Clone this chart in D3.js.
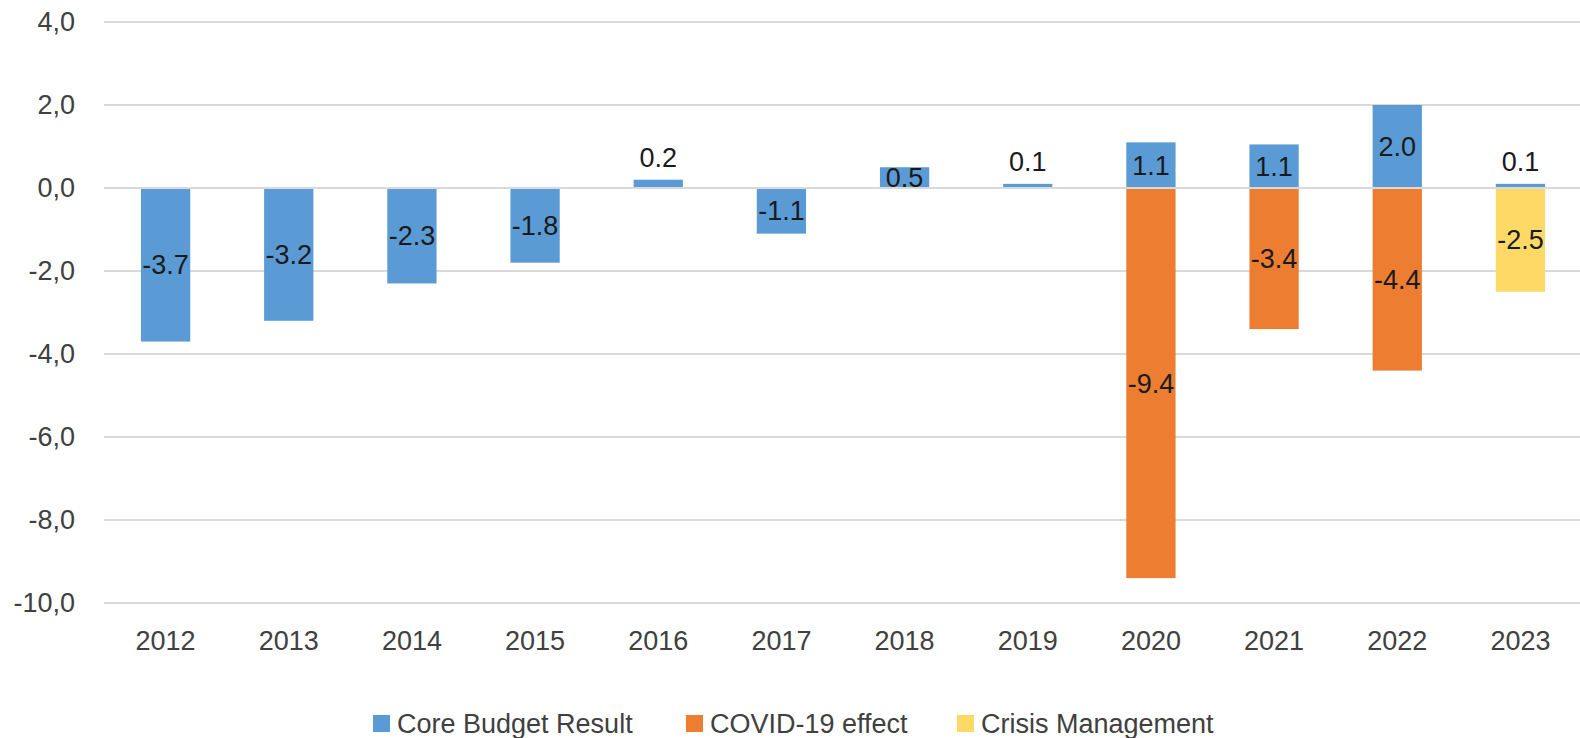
<!DOCTYPE html>
<html>
<head>
<meta charset="utf-8">
<script src="https://cdn.jsdelivr.net/npm/d3@7"></script>
<style>
  body { margin: 0; background: #fff; overflow: hidden; }
  text { font-family: "Liberation Sans", Arial, sans-serif; }
</style>
</head>
<body>
<div id="chart"></div>
<script>
// data
var years = ['2012', '2013', '2014', '2015', '2016', '2017', '2018', '2019', '2020', '2021', '2022', '2023'];
var coreBudget = [-3.7, -3.2, -2.3, -1.8, 0.2, -1.1, 0.5, 0.1, 1.1, 1.05, 2.0, 0.1];
var covidEffect = [0, 0, 0, 0, 0, 0, 0, 0, -9.4, -3.4, -4.4, 0];
var crisisMgmt = [0, 0, 0, 0, 0, 0, 0, 0, 0, 0, 0, -2.5];
var seriesNames = ['Core Budget Result', 'COVID-19 effect', 'Crisis Management'];
var yTicks = [4, 2, 0, -2, -4, -6, -8, -10];

var colors = ['#5B9BD5', '#ED7D31', '#FFD966'];

var width = 1580, height = 738;
var svg = d3.select('#chart').append('svg')
    .attr('width', width)
    .attr('height', height);

var x = d3.scaleBand()
    .domain(years)
    .range([104, 1582])
    .paddingInner(0.6)
    .paddingOuter(0.3);

var y = d3.scaleLinear()
    .domain([-10, 4])
    .range([603, 22]);

// table for the stack
var rows = years.map(function(yr, i) {
    return { year: yr, s0: coreBudget[i], s1: covidEffect[i], s2: crisisMgmt[i] };
});
var keys = ['s0', 's1', 's2'];
var stacked = d3.stack().keys(keys).offset(d3.stackOffsetDiverging)(rows);

// gridlines
svg.append('g').selectAll('line')
    .data(yTicks)
    .join('line')
    .attr('x1', 104).attr('x2', 1580)
    .attr('y1', d => y(d)).attr('y2', d => y(d))
    .attr('stroke', '#D9D9D9')
    .attr('stroke-width', 2);

// y tick labels
svg.append('g').selectAll('text')
    .data(yTicks)
    .join('text')
    .attr('x', 75)
    .attr('y', d => y(d))
    .attr('dy', '0.35em')
    .attr('text-anchor', 'end')
    .attr('font-size', 27)
    .attr('fill', '#404040')
    .text(d => d3.format('.1f')(d).replace('.', ',').replace('−', '-'));

// bars
var layers = svg.append('g').selectAll('g')
    .data(stacked)
    .join('g')
    .attr('fill', (d, i) => colors[i]);

layers.selectAll('rect')
    .data(d => d.filter(p => p.data[d.key] !== 0))
    .join('rect')
    .attr('x', d => x(d.data.year))
    .attr('width', x.bandwidth())
    .attr('y', d => y(Math.max(d[0], d[1])))
    .attr('height', d => Math.abs(y(d[0]) - y(d[1])));

// zero line on top
svg.append('line')
    .attr('x1', 104).attr('x2', 1580)
    .attr('y1', y(0)).attr('y2', y(0))
    .attr('stroke', '#D9D9D9')
    .attr('stroke-width', 2);

// data labels
layers.selectAll('text')
    .data(d => d.filter(p => p.data[d.key] !== 0).map(p => ({ p: p, v: p.data[d.key] })))
    .join('text')
    .attr('x', d => x(d.p.data.year) + x.bandwidth() / 2)
    .attr('y', function(d) {
        var top = y(Math.max(d.p[0], d.p[1]));
        var bot = y(Math.min(d.p[0], d.p[1]));
        if (Math.abs(d.v) < 0.3) return top - 22;
        return (top + bot) / 2;
    })
    .attr('dy', '0.35em')
    .attr('text-anchor', 'middle')
    .attr('font-size', 27)
    .attr('fill', '#1a1a1a')
    .text(d => d.v.toFixed(1));

// x labels
svg.append('g').selectAll('text')
    .data(years)
    .join('text')
    .attr('x', d => x(d) + x.bandwidth() / 2)
    .attr('y', 641)
    .attr('dy', '0.35em')
    .attr('text-anchor', 'middle')
    .attr('font-size', 27)
    .attr('fill', '#404040')
    .text(d => d);

// legend
var legendX = [373, 686, 957];
var legend = svg.append('g').selectAll('g')
    .data(seriesNames)
    .join('g')
    .attr('transform', (d, i) => 'translate(' + legendX[i] + ',724)');
legend.append('rect')
    .attr('x', 0).attr('y', -9)
    .attr('width', 17).attr('height', 17)
    .attr('fill', (d, i) => colors[i]);
legend.append('text')
    .attr('x', 24)
    .attr('y', 0)
    .attr('dy', '0.35em')
    .attr('font-size', 27)
    .attr('fill', '#404040')
    .text(d => d);
</script>
</body>
</html>
